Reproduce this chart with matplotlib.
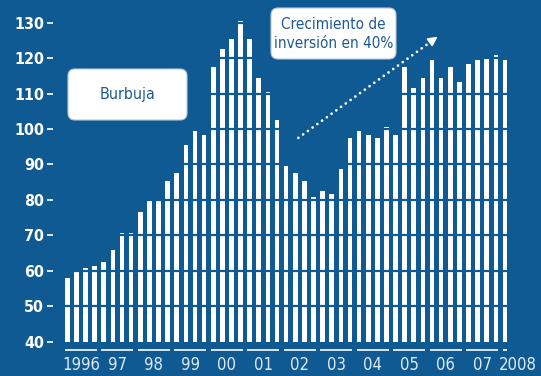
import matplotlib
matplotlib.use('Agg')
import matplotlib.pyplot as plt
import matplotlib.font_manager as fm
from matplotlib.patches import FancyBboxPatch
import numpy as np

# quarterly values, 1996 Q1 .. 2008 Q1
values = [58.0, 59.7, 60.8, 61.4,
          62.5, 65.9, 70.7, 70.7,
          76.6, 79.7, 79.7, 85.4,
          87.6, 95.5, 99.4, 98.3,
          117.5, 122.5, 125.4, 130.4,
          125.4, 114.4, 110.4, 102.5,
          89.6, 87.5, 85.4, 80.8,
          82.5, 81.7, 88.7, 97.5,
          99.4, 98.3, 97.5, 100.5,
          98.3, 117.4, 111.5, 114.3,
          119.4, 114.3, 117.4, 113.2,
          118.2, 119.4, 120.3, 121.0,
          119.4]
year_labels = ['1996', '97', '98', '99', '00', '01', '02',
               '03', '04', '05', '06', '07', '2008']
y_ticks = [40, 50, 60, 70, 80, 90, 100, 110, 120, 130]

BG = '#0f5a92'
TXT_BLUE = '#1d5a92'

# look for a narrow face, the original uses a condensed grotesque
names = {f.name for f in fm.fontManager.ttflist}
condensed = [f for f in fm.fontManager.ttflist
             if f.name == 'DejaVu Sans' and 'ondensed' in str(f.stretch)]
if 'Liberation Sans Narrow' in names:
    FK = dict(family='Liberation Sans Narrow')
    scale = 1.1
elif condensed:
    FK = dict(family='DejaVu Sans', stretch='condensed')
    scale = 1.0
else:
    FK = dict(family='Liberation Sans')
    scale = 0.95

W, H = 541, 376
fig = plt.figure(figsize=(W / 100, H / 100), dpi=100, facecolor=BG)
ax = fig.add_axes([53 / W, (H - 341.7) / H, 1 - 53 / W, (341.7 - 12) / H])
ax.set_facecolor(BG)

x = np.arange(len(values))
bw = 0.51
ax.bar(x, np.array(values) - 40, bottom=40, width=bw, color='white', zorder=2)

# blue grid lines cutting through the bars
for t in y_ticks[1:]:
    ax.axhline(t, color=BG, lw=1.6, zorder=3)

ax.set_xlim(-1.57, 51.95)
ax.set_ylim(40, 133)
for s in ax.spines.values():
    s.set_visible(False)
ax.set_xticks([])
ax.set_yticks(y_ticks)
ax.set_yticklabels([str(t) for t in y_ticks], fontweight='bold',
                   fontsize=11.5 * scale, color='white', **FK)
ax.tick_params(axis='y', direction='out', length=4, width=1.2, color='white', pad=2.5)

# year underlines and labels
trans = ax.get_xaxis_transform()
for i, lab in enumerate(year_labels):
    first = 4 * i
    last = min(first + 3, len(values) - 1)
    ax.plot([first - bw / 2, last + bw / 2], [-0.025, -0.025], color='white',
            lw=1.2, transform=trans, clip_on=False, solid_capstyle='butt')
    cx = (first + last) / 2 if lab != '2008' else first + 1.4
    ax.text(cx, -0.072, lab, transform=trans, ha='center', va='center',
            fontsize=12 * scale, color='#dfe9f4', **FK)

# dotted arrow
x0, y0 = 25.34, 97.5
x1, y1 = 40.87, 126.5
ax.plot([x0, x1 - 0.9], [y0, y1 - 1.7], color='white', lw=2.0,
        linestyle=(0, (0.01, 2.1)), dash_capstyle='round', zorder=4)
ax.annotate('', xy=(x1, y1), xytext=(x1 - 1.2, y1 - 2.2),
            arrowprops=dict(arrowstyle='-|>', color='white', lw=1.2,
                            mutation_scale=14), zorder=4)


def add_box(px0, py0, px1, py1):
    box = FancyBboxPatch((px0 / W, 1 - py1 / H), (px1 - px0) / W, (py1 - py0) / H,
                         boxstyle='round,pad=0,rounding_size=%f' % (7 / W),
                         mutation_aspect=W / H, transform=fig.transFigure,
                         facecolor='white', edgecolor='#b9c6d6', lw=0.8, zorder=5)
    fig.patches.append(box)


add_box(68, 69, 187, 120)
fig.text(127.5 / W, 1 - 94.5 / H, 'Burbuja', ha='center', va='center',
         fontsize=11.5 * scale, color=TXT_BLUE, zorder=6, **FK)

add_box(271, 8, 396, 59)
fig.text(333.5 / W, 1 - 34 / H, 'Crecimiento de\ninversión en 40%', ha='center',
         va='center', fontsize=11 * scale, color=TXT_BLUE,
         linespacing=1.3, zorder=6, **FK)

fig.savefig('out.png', dpi=100, facecolor=BG)
